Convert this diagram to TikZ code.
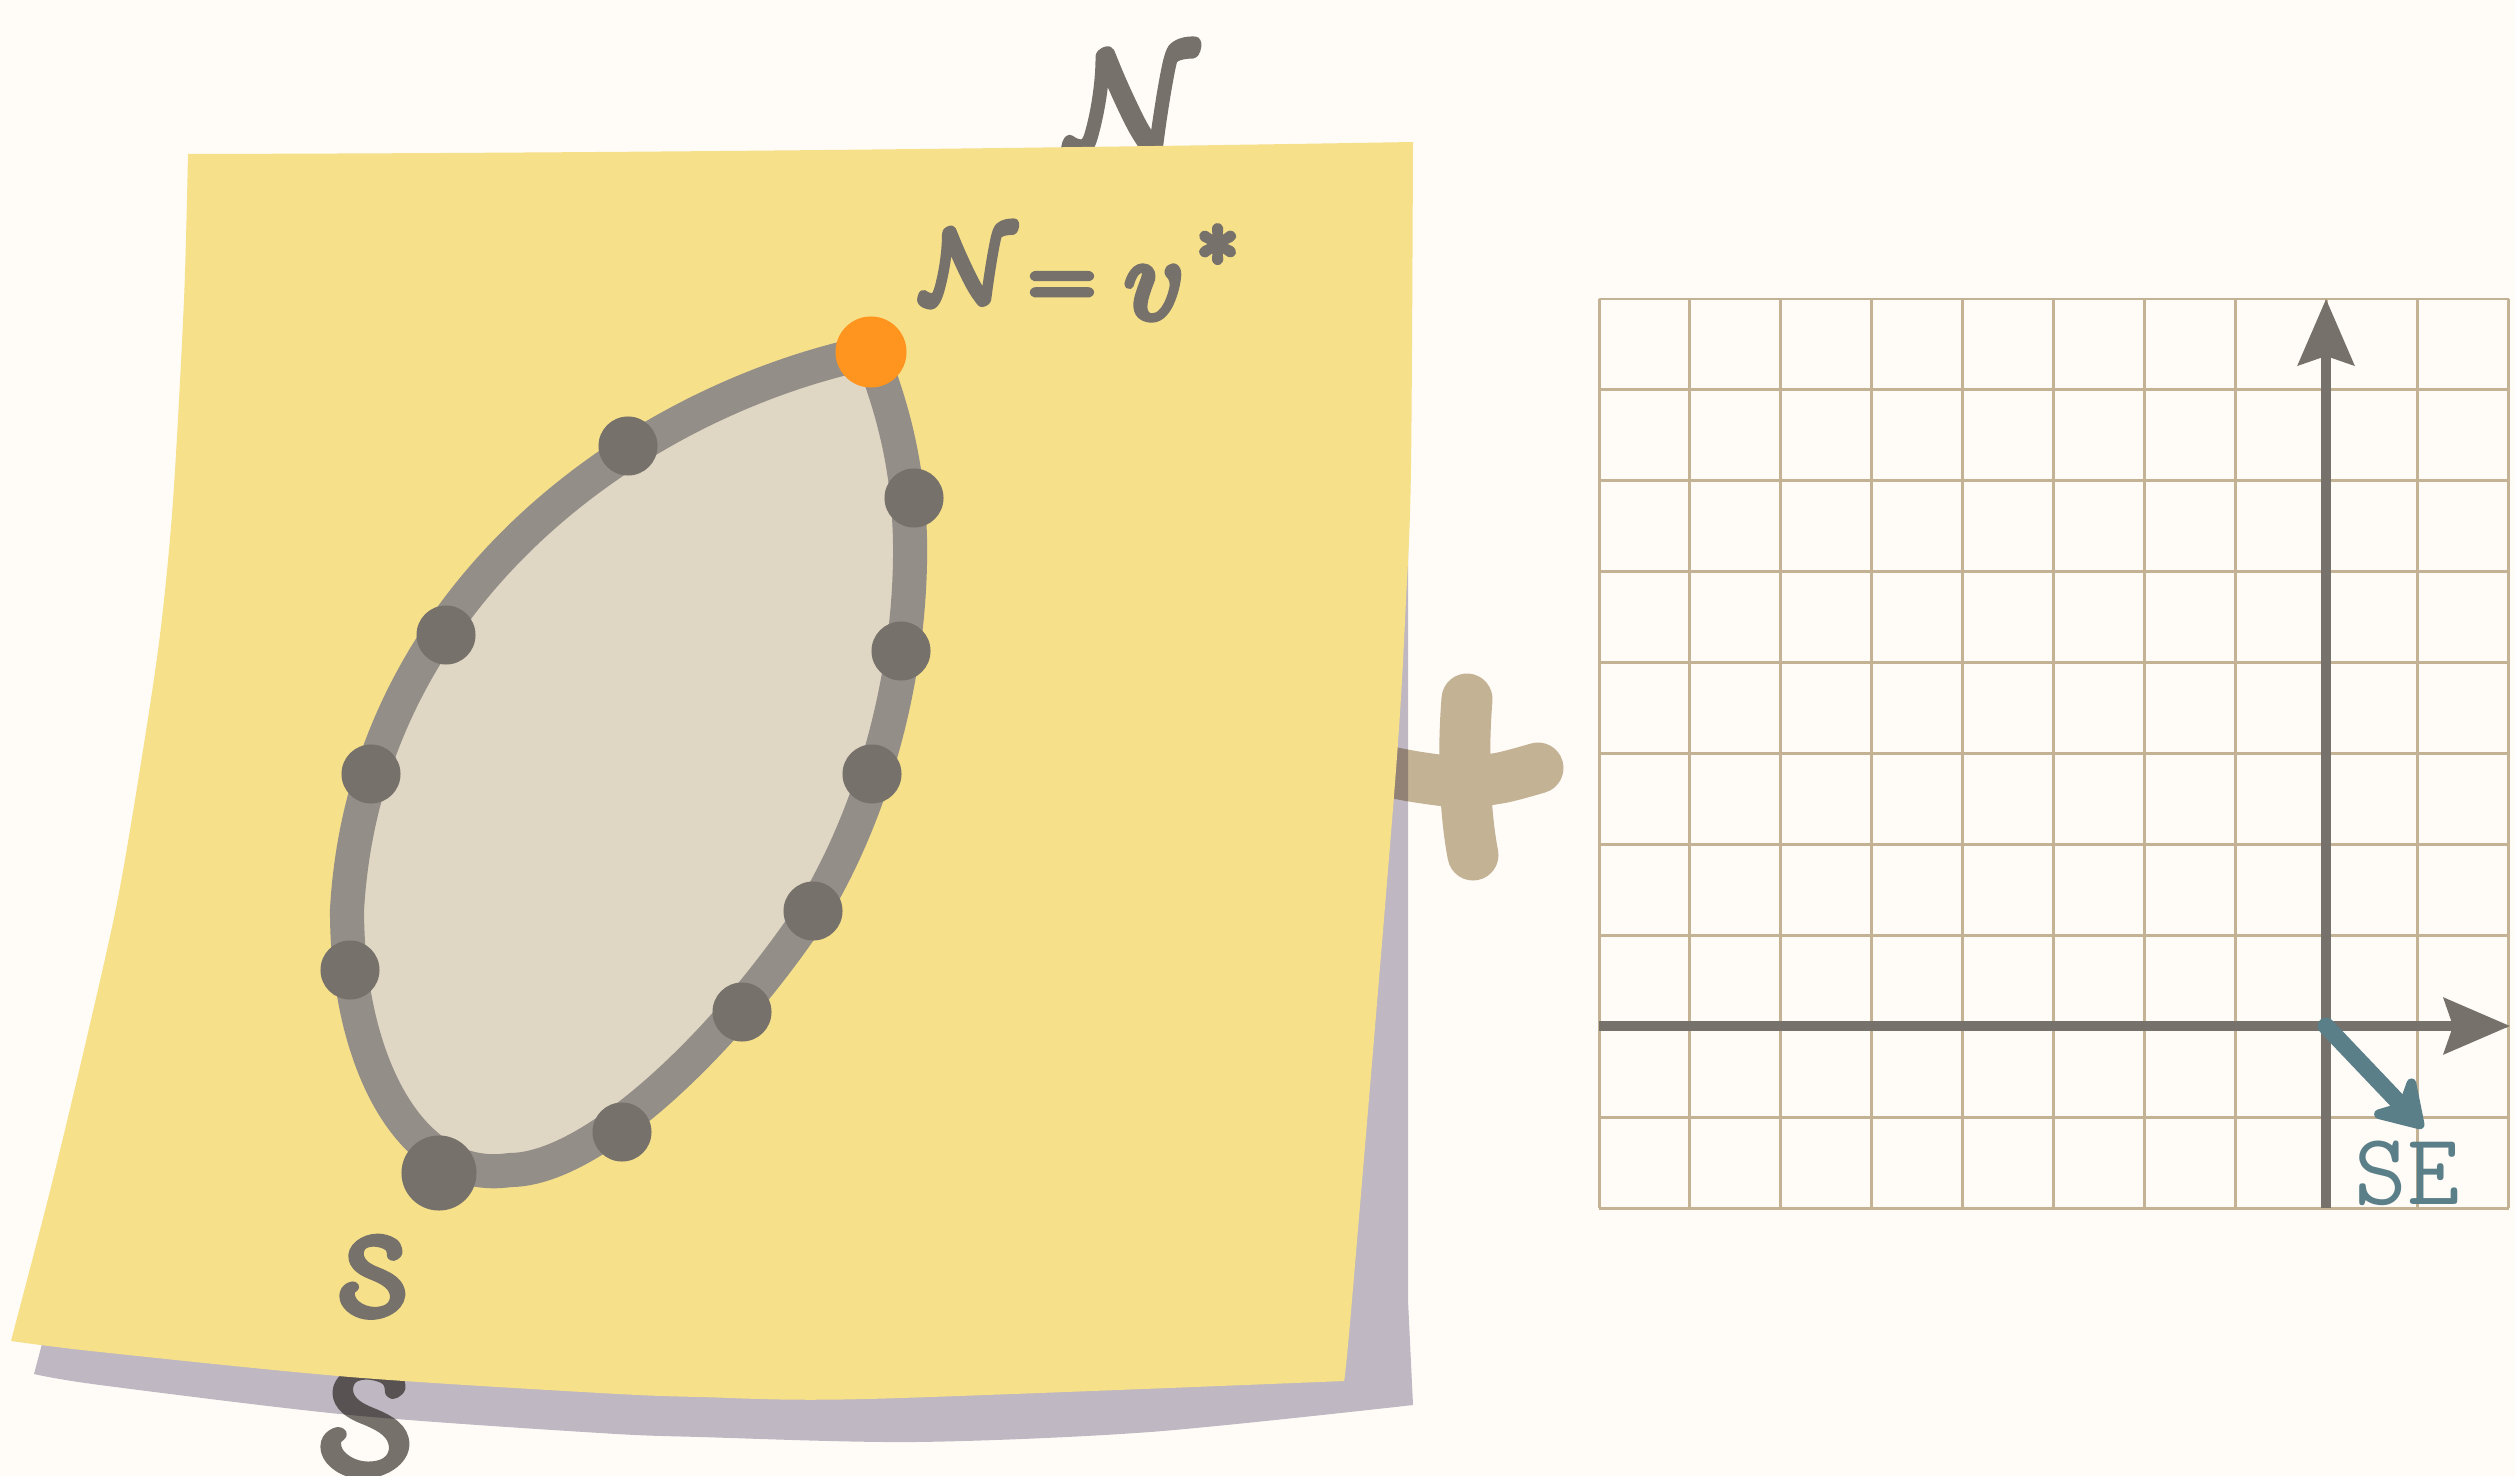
\documentclass[tikz,border=0pt]{standalone}
\usepackage{fix-cm}
\usetikzlibrary{arrows.meta}
\definecolor{paperbg}{RGB}{255,252,247}
\definecolor{noteyellow}{RGB}{246,224,138}
\definecolor{noteshadow}{RGB}{191,186,201}
\definecolor{setfill}{RGB}{224,214,196}
\definecolor{setline}{RGB}{147,143,136}
\definecolor{inkgray}{RGB}{118,113,106}
\definecolor{pickorange}{RGB}{255,149,31}
\definecolor{gridtan}{RGB}{196,178,149}
\definecolor{arrowteal}{RGB}{91,127,137}
% heavier glyphs: fill and stroke the text
\newcommand{\inkstroke}[2]{\special{pdf:literal direct 2 Tr #1 w}#2\special{pdf:literal direct 0 Tr}}
\tikzset{
  vertex/.style={circle,fill=inkgray,inner sep=0pt,minimum size=0.59cm},
  bigvertex/.style={vertex,minimum size=0.75cm},
  startvertex/.style={vertex,fill=pickorange,minimum size=0.71cm},
  mathlabel/.style={text=inkgray,inner sep=0pt,font=\fontsize{#1}{#1}\selectfont},
  callabel/.style={mathlabel=#1,anchor=base},
  dirlabel/.style={text=arrowteal,inner sep=0pt,font=\fontsize{29}{32}\selectfont\ttfamily},
  gridline/.style={gridtan,line width=0.85pt},
  axis/.style={inkgray,line width=2.6pt,-{Stealth[length=18.8pt,width=15.9pt,inset=2.6pt]}},
}
\begin{document}
\begin{tikzpicture}[x=0.01cm,y=-0.01cm,line join=round]
  \fill[paperbg] (0,0) rectangle (2515,1476);
  \useasboundingbox (0,0) rectangle (2515,1476);
  % letters and plus behind the note
  \node[callabel=40,xslant=-0.1] (bigN) at (1138,150) {\inkstroke{2.6}{$\mathcal{N}$}};
  \node[callabel=42,xslant=-0.25] (bigS) at (378,1471) {\inkstroke{2.6}{$\mathcal{S}$}};
  \draw[gridtan,line width=14.5pt,line cap=round]
    plot[smooth] coordinates {(1380,770) (1417,777) (1460,782) (1500,778) (1538,768)}
    (1467,699) .. controls (1462,760) and (1466,820) .. (1473,855);
  % shadow under the note, multiplied over what lies below
  \fill[noteshadow,blend mode=multiply] (34,1374) -- plot[smooth] coordinates {(34,1374) (82,1191) (119,1037) (149,903) (172,769) (192,635) (205,501) (216,300) (220,200)}
    -- (1408,200) -- (1408,1300) -- (1413,1405)
    -- plot[smooth] coordinates {(1413,1405) (1150,1432) (915,1442) (700,1437) (600,1433) (350,1415) (100,1385) (34,1374)} -- cycle;
  % the note
  \fill[noteyellow] (188,154) .. controls (600,153) and (1000,149) .. (1413,142)
    -- plot[smooth] coordinates {(1413,142) (1411,467) (1406,600) (1395,783) (1352,1300) (1344,1381)}
    -- plot[smooth] coordinates {(1344,1381) (867,1399) (700,1397) (600,1393) (350,1377) (100,1352) (11,1341)}
    -- plot[smooth] coordinates {(11,1341) (50,1191) (87,1037) (117,903) (140,769) (160,635) (173,501) (184,300) (188,154)} -- cycle;
  % the set
  \filldraw[fill=setfill,draw=setline,line width=9.7pt] (871,352)
    .. controls (640,400) and (365,590) .. (347,910)
    .. controls (347,1060) and (410,1185) .. (510,1170)
    .. controls (590,1170) and (720,1050) .. (813,911)
    .. controls (880,800) and (912,660) .. (910,540)
    .. controls (908,450) and (885,390) .. (871,352) -- cycle;
  \foreach \p [count=\k] in {(628,446),(914,498),(446,635),(901,651),(371,774),(872,774),(813,911),(350,970),(742,1012),(622,1132)}
    \node[vertex] (v\k) at \p {};
  \node[bigvertex] (s) at (439,1173) {};
  \node[startvertex] (vstar) at (871,352) {};
  % labels
  \node[callabel=29,xslant=-0.1] (calN) at (973,301) {\inkstroke{2}{$\mathcal{N}$}};
  \node[mathlabel=26,anchor=base] (eqsign) at (1062,307) {\inkstroke{2}{$=$}};
  \node[mathlabel=33,anchor=base west] (vlabel) at (1124,318) {\inkstroke{2}{$v^{\mkern3mu\raisebox{.1em}{$\scriptstyle*$}}$}};
  \node[callabel=31,xslant=-0.25] (setlabel) at (382,1314) {\inkstroke{2}{$\mathcal{S}$}};
  % grid and axes
  \foreach \i in {0,...,10} {
    \draw[gridline] ({1599+90.9*\i},299) -- ({1599+90.9*\i},1208);
    \draw[gridline] (1599,{299+90.9*\i}) -- (2509,{299+90.9*\i});
  }
  \coordinate (origin) at (2326,1026);
  \coordinate (xstart) at (1599,1026);
  \coordinate (xend) at (2510,1026);
  \coordinate (ystart) at (2326,1208);
  \coordinate (yend) at (2326,299);
  \coordinate (dirtip) at (2423,1128);
  \draw[axis] (xstart) -- (xend);
  \draw[axis] (ystart) -- (yend);
  \draw[arrowteal,line width=4.8pt,line cap=round,-{Stealth[round,length=16pt,width=20pt,inset=5pt]}] (origin) -- (dirtip);
  \node[dirlabel] (se) at (2407,1173) {SE};
\end{tikzpicture}
\end{document}
